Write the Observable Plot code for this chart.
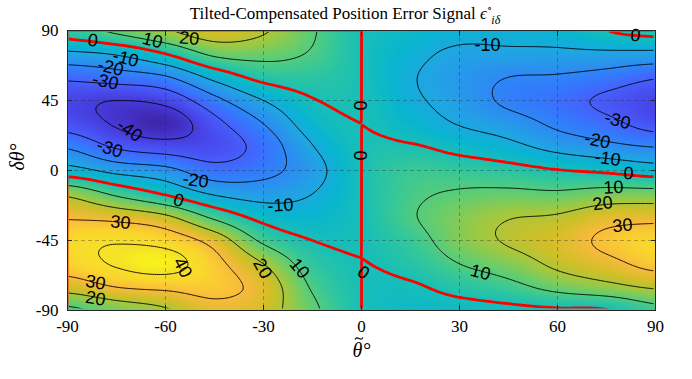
<!DOCTYPE html>
<html>
<head>
<meta charset="utf-8">
<script src="https://cdn.jsdelivr.net/npm/d3@7"></script>
<script src="https://cdn.jsdelivr.net/npm/@observablehq/plot@0.6"></script>
<style>
html,body{margin:0;padding:0;background:#fff;}
#chart svg{display:block;}
</style>
</head>
<body>
<div id="chart"></div>
<script>
// ---------- text ----------
const titleText = "Tilted-Compensated Position Error Signal ";
const xLabel = "θ°";      // drawn with a tilde accent over θ
const yLabel = "δθ°";

// ---------- ticks ----------
const thetaTicks = [-90, -60, -30, 0, 30, 60, 90];
const deltaTicks = [-90, -45, 0, 45, 90];
const thetaGridLines = [-60, -30, 0, 30, 60];
const deltaGridLines = [-45, 0, 45];

const thetaGrid = [-90, -75, -60, -45, -30, -15, 0, 15, 30, 45, 60, 75, 90];
const deltaGrid = [90, 75, 60, 45, 30, 15, 0, -15, -30, -45, -60, -75, -90];
const errAtP90 = [5, 12, 19, 25, 21, 11, 0, -4, -7, -7, -6, 0, 3];
const errAtP75 = [-12, -9, 0, 12, 13, 9, 0, -7, -12, -12, -12, -12, -12.5];
const errAtP60 = [-28, -25, -21, -7, 3, 4, 0, -9, -15, -20, -21, -24, -29];
const errAtP45 = [-37, -40, -37, -23, -10, -0.5, 0, -8, -14, -22, -26, -32, -37];
const errAtP30 = [-34, -41, -46, -33, -20, -5, 0, -5, -10.5, -15, -22, -27, -34];
const errAtP15 = [-21, -31, -35, -35, -26, -10.5, 0, 1, -3, -7, -13, -17, -20];
const errAt0   = [-6, -13, -17, -26, -23, -14, 0, 6, 5.5, 3.5, 0.5, -1.7, -5];
const errAtM15 = [18, 8, -1, -11, -14, -10, 0, 8, 11, 12, 11.5, 14, 14];
const errAtM30 = [29, 27, 22, 8, -3, -5, 0, 9, 15, 19.5, 21, 26, 27];
const errAtM45 = [37, 39, 36, 26, 8, 0, 0, 6, 15, 21, 25, 32, 36];
const errAtM60 = [35, 41, 44, 33, 20, 5, 0, 3, 10, 15, 22, 27, 33];
const errAtM75 = [24, 30, 32, 33, 26, 9, 0, -1, 3, 7, 13, 17, 21];
const errAtM90 = [8, 14, 19, 27, 24, 12, 0, -3, -3, -2, -1, -0.5, 7];
const errorRows = [errAtP90, errAtP75, errAtP60, errAtP45, errAtP30, errAtP15, errAt0,
                   errAtM15, errAtM30, errAtM45, errAtM60, errAtM75, errAtM90];

const contourLevels = [-40, -30, -20, -10, 10, 20, 30, 40];
const zeroLevel = [0];

// contour labels (data coordinates) and their tilt
const contourLabels = [
  {label: "0",   theta: -82.3, delta: 83.6, angle: 8},
  {label: "10",  theta: -64.0, delta: 83.6, angle: 15},
  {label: "20",  theta: -52.7, delta: 84.9, angle: 5},
  {label: "-10", theta: -72.2, delta: 72.0, angle: 15},
  {label: "-20", theta: -76.8, delta: 66.2, angle: 15},
  {label: "-30", theta: -78.4, delta: 57.2, angle: 12},
  {label: "-40", theta: -71.0, delta: 25.7, angle: 35},
  {label: "-30", theta: -77.1, delta: 14.1, angle: 18},
  {label: "-20", theta: -50.8, delta: -6.4, angle: 8},
  {label: "0",   theta: -56.0, delta: -19.3, angle: 15},
  {label: "-10", theta: -24.8, delta: -22.5, angle: -3},
  {label: "30",  theta: -73.8, delta: -33.4, angle: 5},
  {label: "40",  theta: -54.8, delta: -62.4, angle: 62},
  {label: "20",  theta: -30.3, delta: -63.0, angle: 60},
  {label: "10",  theta: -19.0, delta: -63.0, angle: 50},
  {label: "30",  theta: -81.4, delta: -72.0, angle: 10},
  {label: "20",  theta: -81.4, delta: -82.3, angle: 10},
  {label: "0",   theta: 0,     delta: 41.8, angle: -90},
  {label: "0",   theta: 0,     delta: 9.6,  angle: -90},
  {label: "0",   theta: 0.6,   delta: -65.6, angle: 35},
  {label: "-10", theta: 38.6,  delta: 80.4, angle: 0},
  {label: "-30", theta: 78.4,  delta: 32.1, angle: 15},
  {label: "-20", theta: 72.2,  delta: 19.3, angle: 12},
  {label: "-10", theta: 75.3,  delta: 7.7,  angle: 8},
  {label: "0",   theta: 81.7,  delta: -1.9, angle: 5},
  {label: "10",  theta: 77.1,  delta: -10.9, angle: -3},
  {label: "20",  theta: 73.8,  delta: -21.2, angle: -8},
  {label: "30",  theta: 79.9,  delta: -35.4, angle: -5},
  {label: "10",  theta: 36.4,  delta: -65.6, angle: 15},
  {label: "0",   theta: 83.9,  delta: 86.8, angle: 5}
];

// parula colormap (MATLAB R2017a+), every 4th entry of the 64-colour table
const parulaColors = ["#3e26a8", "#4537d5", "#484df0", "#4563fd", "#327cfc", "#2b91ef", "#20a5e3", "#08b5d0",
                      "#19bfb6", "#37c897", "#64cd6f", "#9dc943", "#d1bf27", "#f8ba3d", "#fad62d", "#f5e327", "#f9fb15"];
const parulaIndex = [0, 4, 8, 12, 16, 20, 24, 28, 32, 36, 40, 44, 48, 52, 56, 60, 63];
const colorDomain = [-47, 46];

// ---------- build table ----------
const errorPoints = [];
deltaGrid.forEach((d, i) => thetaGrid.forEach((t, j) => errorPoints.push({theta: t, delta: d, err: errorRows[i][j]})));

const parulaScale = d3.scaleLinear().domain(parulaIndex.map(i => i / 63)).range(parulaColors).interpolate(d3.interpolateRgb).clamp(true);
const parula = t => parulaScale(t);

// smooth (Catmull-Rom) interpolation of the regular sample grid onto the raster
function gridCubic(index, width, height, X, Y, V) {
  const xs = Array.from(new Set(Array.from(index, i => X[i]))).sort((a, b) => a - b);
  const ys = Array.from(new Set(Array.from(index, i => Y[i]))).sort((a, b) => a - b);
  const nx = xs.length, ny = ys.length;
  const G = new Float64Array(nx * ny);
  for (const i of index) G[ys.indexOf(Y[i]) * nx + xs.indexOf(X[i])] = V[i];
  const at = (c, r) => G[Math.max(0, Math.min(ny - 1, r)) * nx + Math.max(0, Math.min(nx - 1, c))];
  const cr = (p0, p1, p2, p3, t) => 0.5 * (2 * p1 + (p2 - p0) * t + (2 * p0 - 5 * p1 + 4 * p2 - p3) * t * t + (3 * p1 - p0 - 3 * p2 + p3) * t * t * t);
  const locate = (arr, v) => {
    let k = 0;
    while (k < arr.length - 2 && v > arr[k + 1]) k++;
    const t = Math.max(0, Math.min(1, (v - arr[k]) / (arr[k + 1] - arr[k])));
    return [k, t];
  };
  const colLoc = Array.from({length: width}, (_, px) => locate(xs, px + 0.5));
  const F = new Float64Array(width * height);
  for (let py = 0; py < height; py++) {
    const [r, ty] = locate(ys, py + 0.5);
    for (let px = 0; px < width; px++) {
      const [c, tx] = colLoc[px];
      const q = [];
      for (let k = r - 1; k <= r + 2; k++) q.push(cr(at(c - 1, k), at(c, k), at(c + 1, k), at(c + 2, k), tx));
      F[py * width + px] = cr(q[0], q[1], q[2], q[3], ty);
    }
  }
  return F;
}

const serif = "'Liberation Serif', 'DejaVu Serif', serif";
const sans = "'Liberation Sans', Arial, sans-serif";
const axisInk = "#262626";
const noText = () => "";

const W = 692, H = 379, mL = 67, mR = 37, mT = 30, mB = 69;

const chart = Plot.plot({
  width: W,
  height: H,
  marginLeft: mL,
  marginRight: mR,
  marginTop: mT,
  marginBottom: mB,
  style: {fontFamily: serif, fontSize: "17px", background: "#fff", color: "#000"},
  x: {domain: [-90, 90]},
  y: {domain: [-90, 90]},
  color: {type: "linear", domain: colorDomain, interpolate: parula},
  marks: [
    Plot.raster(errorPoints, {x: "theta", y: "delta", fill: "err", interpolate: gridCubic}),
    Plot.gridX({ticks: thetaGridLines, stroke: axisInk, strokeOpacity: 0.35, strokeDasharray: "4,3"}),
    Plot.gridY({ticks: deltaGridLines, stroke: axisInk, strokeOpacity: 0.35, strokeDasharray: "4,3"}),
    Plot.contour(errorPoints, {x: "theta", y: "delta", value: "err", thresholds: contourLevels, interpolate: gridCubic, fill: "none", stroke: "#000", strokeWidth: 0.9}),
    Plot.contour(errorPoints, {x: "theta", y: "delta", value: "err", thresholds: zeroLevel, interpolate: gridCubic, fill: "none", stroke: "#ff0000", strokeWidth: 2.8}),
    Plot.text(contourLabels, {x: "theta", y: "delta", text: "label", rotate: "angle", fontFamily: sans, fontSize: 18, fill: "#000", ariaLabel: "contour-labels"}),
    Plot.frame({stroke: axisInk, strokeWidth: 1}),
    // inward tick marks on all four sides
    Plot.axisX({ticks: thetaTicks, anchor: "bottom", tickSize: 5, dy: -5, tickFormat: noText, label: null, stroke: axisInk}),
    Plot.axisX({ticks: thetaTicks, anchor: "top", tickSize: 5, dy: 5, tickFormat: noText, label: null, stroke: axisInk}),
    Plot.axisY({ticks: deltaTicks, anchor: "left", tickSize: 5, dx: 5, tickFormat: noText, label: null, stroke: axisInk}),
    Plot.axisY({ticks: deltaTicks, anchor: "right", tickSize: 5, dx: -5, tickFormat: noText, label: null, stroke: axisInk}),
    // tick labels
    Plot.axisX({ticks: thetaTicks, tickSize: 0, tickPadding: 9, tickFormat: d => String(d), label: null, fontSize: 17, fontFamily: serif}),
    Plot.axisY({ticks: deltaTicks, tickSize: 0, tickPadding: 9, tickFormat: d => String(d), label: null, fontSize: 17, fontFamily: serif}),
    // axis titles
    Plot.text([xLabel], {frameAnchor: "bottom", dy: 46, fontSize: 20, fontStyle: "italic", fontFamily: serif}),
    Plot.text([yLabel], {frameAnchor: "left", dx: -50, rotate: -90, fontSize: 20, fontStyle: "italic", fontFamily: serif})
  ]
});

document.getElementById("chart").append(chart);
const ns = "http://www.w3.org/2000/svg";
const root = d3.select(chart);

// ---------- title with super/subscript ----------
const title = root.append("text")
  .attr("x", 345).attr("y", 19).attr("text-anchor", "middle")
  .attr("font-family", serif).attr("font-size", 17).attr("fill", "#000");
title.append("tspan").text(titleText);
title.append("tspan").attr("font-style", "italic").text("ϵ");
title.append("tspan").attr("font-size", 11).attr("dy", -7).text("∘");
title.append("tspan").attr("font-size", 12).attr("font-style", "italic").attr("dx", -1).attr("dy", 12).text("iδ");

// ---------- tilde accent over θ in the x-axis title ----------
// x title is centred under the frame; θ is the first of its two glyphs
const frameMid = mL + (W - mL - mR) / 2;
const tildeX = frameMid - 2;
const tildeY = H - mB + 46 - 17.5;
root.append("path")
  .attr("d", `M${tildeX - 4},${tildeY + 1} C${tildeX - 2.8},${tildeY - 1.2} ${tildeX - 1.4},${tildeY - 0.8} ${tildeX},${tildeY} S${tildeX + 2.8},${tildeY + 1.2} ${tildeX + 4},${tildeY - 1}`)
  .attr("fill", "none").attr("stroke", "#000").attr("stroke-width", 1.1);

// ---------- break contour lines under labels, and trim ring edges ----------
const inv = chart.getScreenCTM().inverse();
const defs = document.createElementNS(ns, "defs");
const mask = document.createElementNS(ns, "mask");
mask.setAttribute("id", "label-gaps");
mask.setAttribute("maskUnits", "userSpaceOnUse");
mask.setAttribute("x", 0); mask.setAttribute("y", 0);
mask.setAttribute("width", W); mask.setAttribute("height", H);
const bg = document.createElementNS(ns, "rect");
bg.setAttribute("x", mL + 1.6); bg.setAttribute("y", mT + 1.6);
bg.setAttribute("width", W - mL - mR - 3.2); bg.setAttribute("height", H - mT - mB - 3.2);
bg.setAttribute("fill", "#fff");
mask.appendChild(bg);
chart.querySelectorAll('g[aria-label="contour-labels"] text').forEach(t => {
  const bb = t.getBBox();
  const m = inv.multiply(t.getScreenCTM());
  const r = document.createElementNS(ns, "rect");
  r.setAttribute("x", bb.x - 2);
  r.setAttribute("y", bb.y + bb.height * 0.15);
  r.setAttribute("width", bb.width + 4);
  r.setAttribute("height", bb.height * 0.7);
  r.setAttribute("fill", "#000");
  r.setAttribute("transform", `matrix(${m.a},${m.b},${m.c},${m.d},${m.e},${m.f})`);
  mask.appendChild(r);
});
defs.appendChild(mask);
chart.insertBefore(defs, chart.firstChild);
const contourGroups = chart.querySelectorAll('g[aria-label="contour"]');
if (contourGroups.length) {
  const wrap = document.createElementNS(ns, "g");
  contourGroups[0].parentNode.insertBefore(wrap, contourGroups[0]);
  contourGroups.forEach(c => wrap.appendChild(c));
  wrap.setAttribute("mask", "url(#label-gaps)");
}
</script>
</body>
</html>
